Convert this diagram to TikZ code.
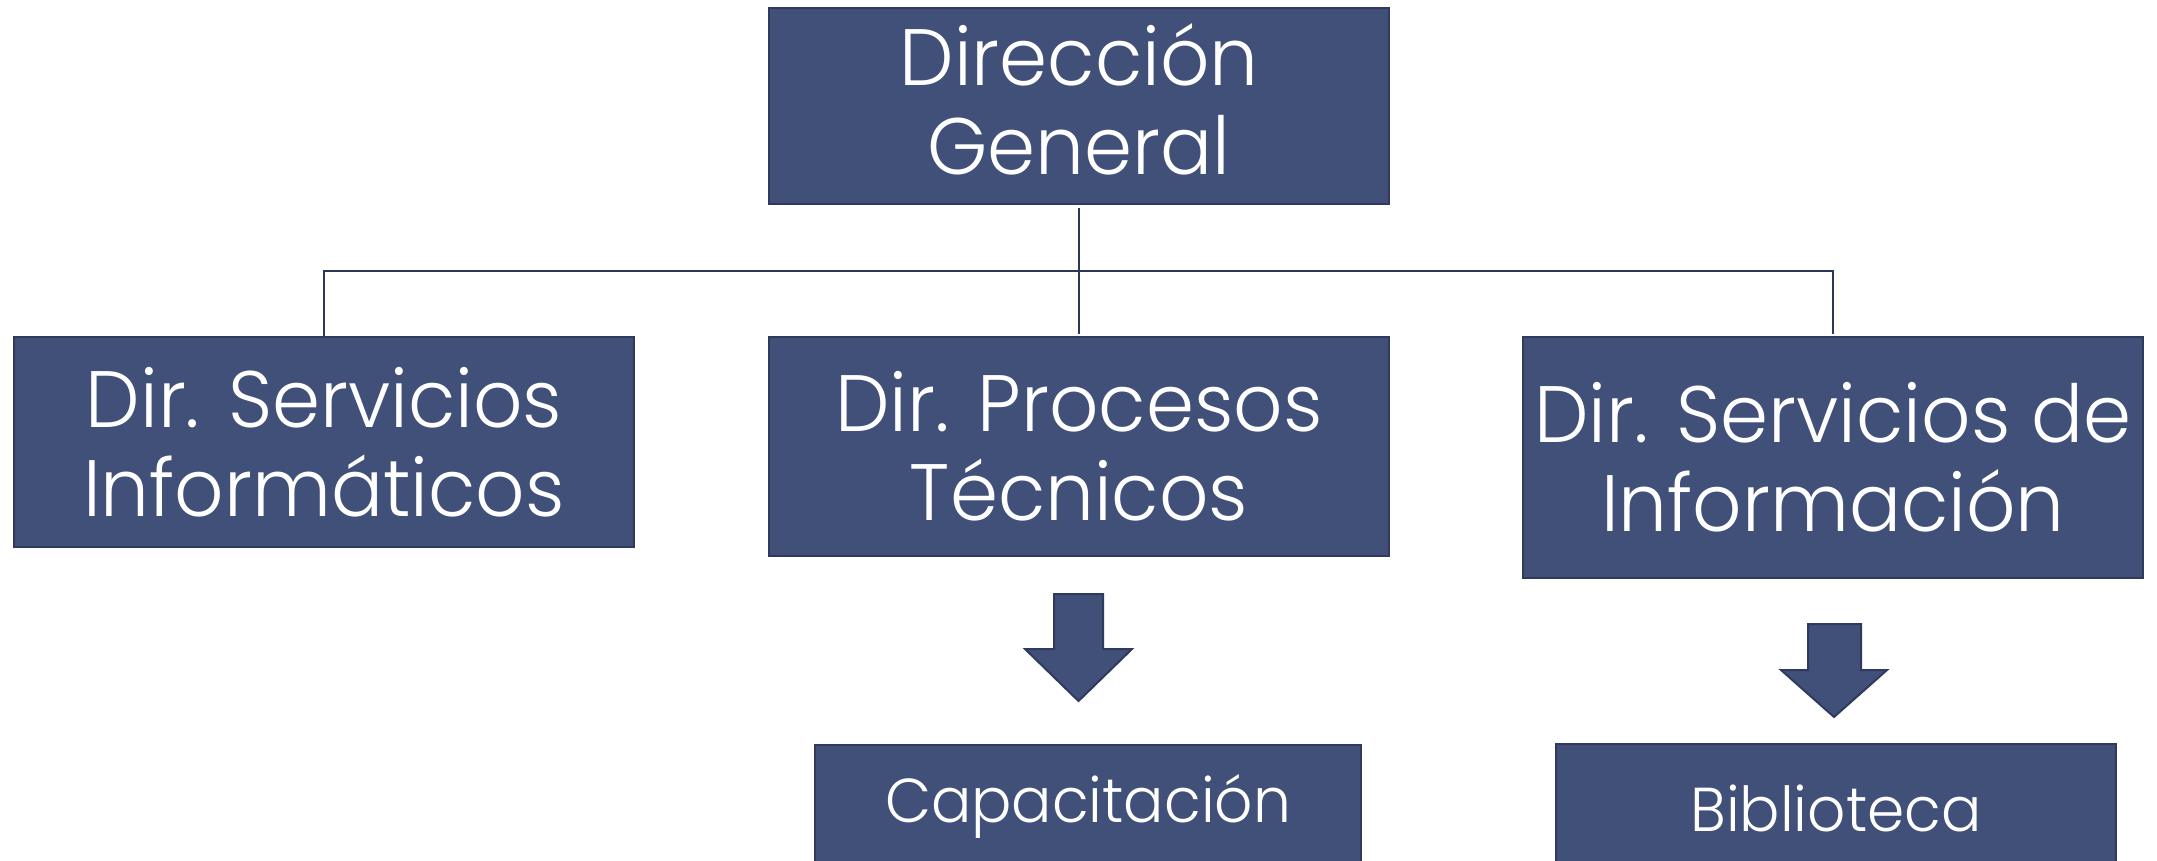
\documentclass[tikz,border=0pt]{standalone}
\usepackage{fontspec}
\setmainfont{Poppins}[UprightFont=* Light, FakeStretch=0.965]
\definecolor{boxfill}{RGB}{65,80,121}
\definecolor{boxline}{RGB}{47,58,92}
\definecolor{connc}{RGB}{44,54,86}
\begin{document}
\begin{tikzpicture}[x=0.5pt,y=-0.5pt,
  box/.style={draw=boxline, fill=boxfill, line width=0.6pt, text=white, inner sep=0pt, align=center, font=\fontsize{40}{44.5}\selectfont},
  smallbox/.style={box, font=\fontsize{31}{36}\selectfont},
  conn/.style={draw=connc, line width=1pt},
  blockarrow/.style={fill=boxfill, draw=boxline, line width=1pt, line join=miter}]
\useasboundingbox (0,0) rectangle (2157,861);
\node[box, minimum width=310pt, minimum height=98pt] (dg) at (1079,106) {Dirección\\General\\[-37.5pt]\mbox{}};
\node[box, minimum width=310pt, minimum height=105pt] (dsi) at (324,442) {Dir. Servicios\\Informáticos};
\node[box, minimum width=310pt, minimum height=109.5pt] (dpt) at (1079,446.5) {Dir. Procesos\\Técnicos};
\node[box, minimum width=310pt, minimum height=120.5pt] (dsinf) at (1833,457.5) {Dir. Servicios de\\Información};
\node[smallbox, minimum width=273pt, minimum height=61pt] (cap) at (1088,806) {Capacitación};
\node[smallbox, minimum width=280pt, minimum height=64pt] (bib) at (1836,808) {Biblioteca};
\coordinate (bus) at (1079,271);
\draw[conn, shorten >=1pt] (dsi.north) |- (bus) -| (dsinf.north);
\draw[conn, shorten <=1.5pt, shorten >=1pt] (dg.south) -- (dpt.north);
\draw[blockarrow] (1054,594) -- (1103,594) -- (1103,649) -- (1132,649) -- (1078.5,701) -- (1025,649) -- (1054,649) -- cycle;
\draw[blockarrow] (1808,624) -- (1861,624) -- (1861,670) -- (1887,670) -- (1834,717) -- (1781,670) -- (1808,670) -- cycle;
\end{tikzpicture}
\end{document}
